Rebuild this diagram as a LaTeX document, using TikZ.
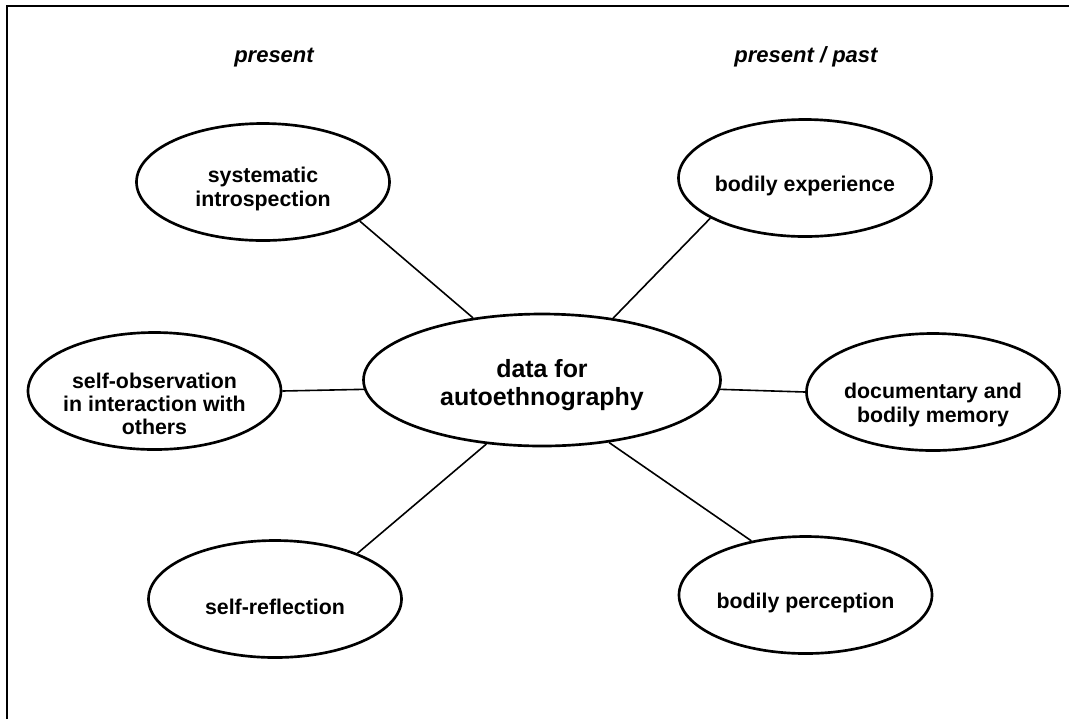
\documentclass[tikz,border=0pt]{standalone}
\usepackage{fontspec}
\setmainfont{Liberation Sans}
\usetikzlibrary{shapes.geometric}

\tikzset{
  source/.style={ellipse, draw, line width=2pt, inner sep=0pt,
    minimum width=189.75pt, minimum height=87.75pt},
  core/.style={ellipse, draw, line width=2pt, inner sep=0pt,
    minimum width=267.75pt, minimum height=99pt},
  % text set inside an ellipse, a little below its centre
  intext/.style={inner sep=0pt, align=center,
    font=\fontsize{16}{17}\selectfont\bfseries},
  looser/.style={font=\fontsize{16}{18.6}\selectfont\bfseries},
  coretext/.style={inner sep=0pt, align=center,
    font=\fontsize{18.7}{21}\selectfont\bfseries},
  heading/.style={anchor=base, inner sep=0pt,
    font=\fontsize{16.5}{18}\selectfont\bfseries\itshape},
  link/.style={line width=1.2pt},
  frame/.style={line width=1.5pt}
}

\begin{document}
\begin{tikzpicture}[x=0.75pt, y=-0.75pt]
  \useasboundingbox (0,0) rectangle (1069,719);

  % frame
  \draw[frame] (7,719) -- (7,6) -- (1069,6);

  % column headings
  \node[heading] (hleft)  at (274,62) {present};
  \node[heading] (hright) at (806,62) {present / past};

  % central topic
  \node[core, label={[coretext, yshift=-3.75pt]center:{data for\\autoethnography}}]
    (c) at (542,380) {};

  % data sources
  \node[source, label={[intext, looser, yshift=-5.25pt]center:{systematic\\introspection}}]
    (si) at (263,182) {};
  \node[source, label={[intext, yshift=-6pt]center:{bodily experience}}]
    (be) at (805,178) {};
  \node[source, label={[intext, yshift=-9.75pt]center:{self-observation\\in interaction with\\others}}]
    (so) at (154.5,391) {};
  \node[source, label={[intext, looser, yshift=-9.75pt]center:{documentary and\\bodily memory}}]
    (dm) at (933,392) {};
  \node[source, label={[intext, yshift=-6pt]center:{self-reflection}}]
    (sr) at (275,599) {};
  \node[source, label={[intext, yshift=-6pt]center:{bodily perception}}]
    (bp) at (805.5,595) {};

  % connectors
  \draw[link] (si.-22)  -- (c.138.7);
  \draw[link] (be.203)  -- (c.41.7);
  \draw[link] (so.east) -- (c.183.5);
  \draw[link] (dm.west) -- (c.-3.5);
  \draw[link] (sr.29.3) -- (c.229.8);
  \draw[link] (bp.135.3) -- (c.317.2);
\end{tikzpicture}
\end{document}
